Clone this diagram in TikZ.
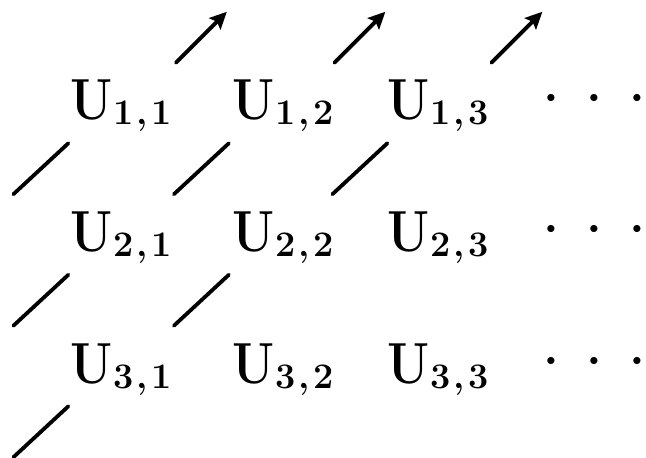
\documentclass[tikz,border=0pt]{standalone}
\usepackage{graphicx}
\usepackage{tikz}
\usetikzlibrary{arrows.meta,calc}

\newcommand{\ucell}[2]{\scalebox{0.84}[1]{\bfseries U}\kern0.5pt\raisebox{-2.5pt}{\fontsize{18}{18}\selectfont\bfseries #1\kern1.5pt,\kern1.5pt#2}}

\begin{document}
\begin{tikzpicture}[x=0.5pt, y=-0.5pt, >={Stealth[length=8.5pt,width=8pt,inset=1.5pt]},
  cell/.style={anchor=base west, inner sep=0pt, font=\fontsize{29}{34}\selectfont},
  dotrow/.style={anchor=center, inner sep=0pt, font=\fontsize{9}{10}\selectfont},
  diag/.style={line width=1.9pt, line cap=round}]
  \useasboundingbox (0,0) rectangle (646,458);

  % the cells U_{i,j}
  \foreach \i/\y in {1/120,2/251.5,3/383}
    \foreach \j/\x in {1/70,2/232,3/387}
      \node[cell] (u\i\j) at (\x,\y) {\ucell{\i}{\j}};

  % dots at the end of each row
  \foreach \i/\y in {1/98,2/229,3/361}
    \node[dotrow] (d\i) at (594,\y) {\makebox[21.5pt]{$\bullet$}\makebox[21.5pt]{$\bullet$}\makebox[21.5pt]{$\bullet$}};

  % cells just off the grid
  \coordinate (u02) at ($(u12.base)+(0,-131.5)$);
  \coordinate (u03) at ($(u13.base)+(0,-131.5)$);
  \coordinate (u04) at ($(u13.base)+(159,-131.5)$);
  \coordinate (u20) at ($(u21.base)+(-159,0)$);
  \coordinate (u30) at ($(u31.base)+(-159,0)$);
  \coordinate (u40) at ($(u31.base)+(-159,131.5)$);

  % diagonals
  \foreach \a/\b in {u20/u11.base, u30/u21.base, u21.base/u12.base, u40/u31.base, u31.base/u22.base, u22.base/u13.base}
    \draw[diag] ($(\a)!.5!(\b)+(-28,8.5)$) -- ($(\a)!.5!(\b)+(27,-42.5)$);
  \foreach \a/\b in {u11.base/u02, u12.base/u03, u13.base/u04}
    \draw[diag,->] ($(\a)!.5!(\b)+(-26,8.5)$) -- ($(\a)!.5!(\b)+(25,-42.5)$);
\end{tikzpicture}
\end{document}
